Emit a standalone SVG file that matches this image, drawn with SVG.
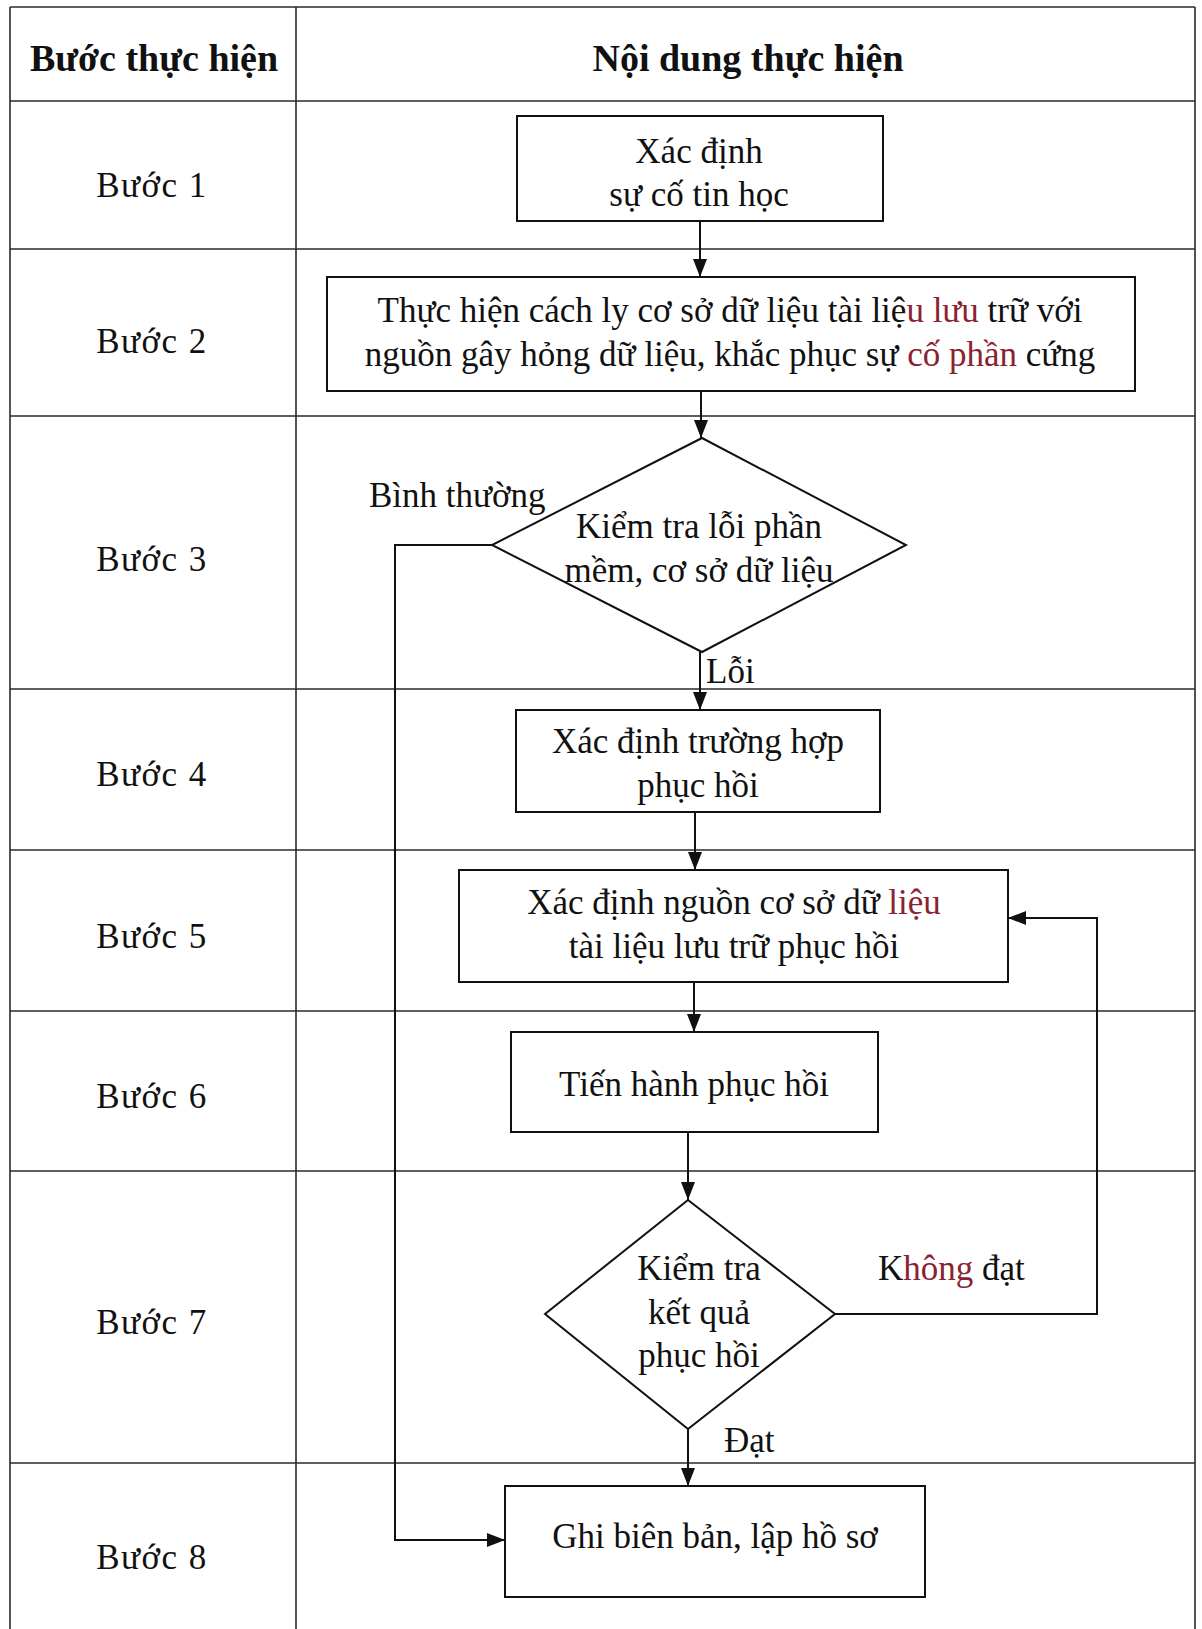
<svg xmlns="http://www.w3.org/2000/svg" width="1202" height="1629" viewBox="0 0 1202 1629">
<style>
.grid{stroke:#2a2a2a;stroke-width:1.6;fill:none}
.box{fill:#fff;stroke:#111;stroke-width:2}
.con{fill:none;stroke:#111;stroke-width:2}
.t{font-family:"Liberation Serif","Times New Roman",serif;font-size:35px;fill:#111;text-anchor:middle}
.h{font-family:"Liberation Serif","Times New Roman",serif;font-size:38px;font-weight:bold;fill:#111;text-anchor:middle}
.s{font-family:"Liberation Serif","Times New Roman",serif;font-size:35px;fill:#111;text-anchor:middle;letter-spacing:1.5px}
.lb{font-family:"Liberation Serif","Times New Roman",serif;font-size:35px;fill:#111}
.r{fill:#8a2232}
</style>
<defs>
<marker id="arr" viewBox="0 0 18 14" refX="18" refY="7" markerWidth="18" markerHeight="14" markerUnits="userSpaceOnUse" orient="auto">
<path d="M0,0 L18,7 L0,14 Z" fill="#111"/>
</marker>
</defs>
<rect width="1202" height="1629" fill="#fff"/>
<g id="table">
<line class="grid" x1="10" y1="7" x2="1195" y2="7"/>
<line class="grid" x1="10" y1="7" x2="10" y2="1629"/>
<line class="grid" x1="296" y1="7" x2="296" y2="1629"/>
<line class="grid" x1="1195" y1="7" x2="1195" y2="1629"/>
<line class="grid" x1="10" y1="101" x2="1195" y2="101"/>
<line class="grid" x1="10" y1="249" x2="1195" y2="249"/>
<line class="grid" x1="10" y1="416" x2="1195" y2="416"/>
<line class="grid" x1="10" y1="689" x2="1195" y2="689"/>
<line class="grid" x1="10" y1="850" x2="1195" y2="850"/>
<line class="grid" x1="10" y1="1011" x2="1195" y2="1011"/>
<line class="grid" x1="10" y1="1171" x2="1195" y2="1171"/>
<line class="grid" x1="10" y1="1463" x2="1195" y2="1463"/>
<text class="h" x="154" y="71">Bước thực hiện</text>
<text class="h" x="748" y="71">Nội dung thực hiện</text>
<text class="s" x="152" y="197">Bước 1</text>
<text class="s" x="152" y="353">Bước 2</text>
<text class="s" x="152" y="571">Bước 3</text>
<text class="s" x="152" y="786">Bước 4</text>
<text class="s" x="152" y="948">Bước 5</text>
<text class="s" x="152" y="1108">Bước 6</text>
<text class="s" x="152" y="1334">Bước 7</text>
<text class="s" x="152" y="1569">Bước 8</text>
</g>
<g id="connectors">
<line class="con" x1="700" y1="221" x2="700" y2="277" marker-end="url(#arr)"/>
<line class="con" x1="701" y1="391" x2="701" y2="438" marker-end="url(#arr)"/>
<line class="con" x1="700" y1="652" x2="700" y2="710" marker-end="url(#arr)"/>
<line class="con" x1="695" y1="812" x2="695" y2="870" marker-end="url(#arr)"/>
<line class="con" x1="694" y1="982" x2="694" y2="1032" marker-end="url(#arr)"/>
<line class="con" x1="688" y1="1132" x2="688" y2="1200" marker-end="url(#arr)"/>
<line class="con" x1="688" y1="1429" x2="688" y2="1486" marker-end="url(#arr)"/>
<polyline class="con" points="835,1314 1097,1314 1097,918 1008,918" marker-end="url(#arr)"/>
<polyline class="con" points="492,545 395,545 395,1540 505,1540" marker-end="url(#arr)"/>
<text class="lb" x="369" y="507">Bình thường</text>
<text class="lb" x="706" y="683">Lỗi</text>
<text class="lb" x="878" y="1280">K<tspan class="r">hông</tspan> đạt</text>
<text class="lb" x="724" y="1452">Đạt</text>
</g>
<g id="n1">
<rect class="box" x="517" y="116" width="366" height="105"/>
<text class="t" x="699" y="163">Xác định</text>
<text class="t" x="699" y="206">sự cố tin học</text>
</g>
<g id="n2">
<rect class="box" x="327" y="277" width="808" height="114"/>
<text class="t" x="730" y="322">Thực hiện cách ly cơ sở dữ liệu tài liệ<tspan class="r">u lưu</tspan> trữ với</text>
<text class="t" x="730" y="366">nguồn gây hỏng dữ liệu, khắc phục sự <tspan class="r">cố phần</tspan> cứng</text>
</g>
<g id="n3">
<polygon class="box" points="702,438 906,545 702,652 492,545"/>
<text class="t" x="699" y="538">Kiểm tra lỗi phần</text>
<text class="t" x="699" y="582">mềm, cơ sở dữ liệu</text>
</g>
<g id="n4">
<rect class="box" x="516" y="710" width="364" height="102"/>
<text class="t" x="698" y="753">Xác định trường hợp</text>
<text class="t" x="698" y="797">phục hồi</text>
</g>
<g id="n5">
<rect class="box" x="459" y="870" width="549" height="112"/>
<text class="t" x="734" y="914">Xác định nguồn cơ sở dữ <tspan class="r">liệu</tspan></text>
<text class="t" x="734" y="958">tài liệu lưu trữ phục hồi</text>
</g>
<g id="n6">
<rect class="box" x="511" y="1032" width="367" height="100"/>
<text class="t" x="694" y="1096">Tiến hành phục hồi</text>
</g>
<g id="n7">
<polygon class="box" points="688,1200 835,1314 688,1429 545,1314"/>
<text class="t" x="699" y="1280">Kiểm tra</text>
<text class="t" x="699" y="1324">kết quả</text>
<text class="t" x="699" y="1367">phục hồi</text>
</g>
<g id="n8">
<rect class="box" x="505" y="1486" width="420" height="111"/>
<text class="t" x="715" y="1548">Ghi biên bản, lập hồ sơ</text>
</g>
</svg>
